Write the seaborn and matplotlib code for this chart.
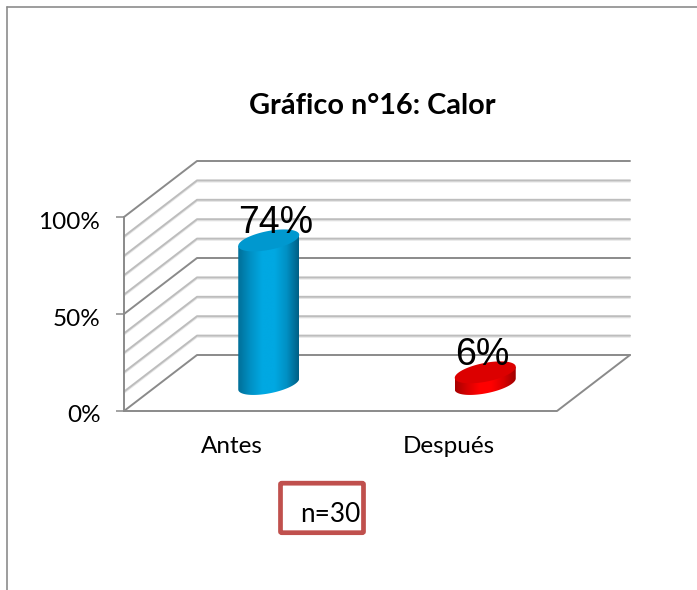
import numpy as np
import matplotlib
matplotlib.use('Agg')
import matplotlib.pyplot as plt
import seaborn as sns
from matplotlib.lines import Line2D
from matplotlib.patches import Polygon, FancyBboxPatch
from matplotlib.transforms import ScaledTranslation

categories = ['Antes', 'Después']
values = [74, 6]
value_labels = ['74%', '6%']
yticks = [0, 50, 100]
grid_steps = [0, 10, 20, 30, 40, 50, 60, 70, 80, 90, 100]
title = 'Gráfico n°16: Calor'
note = 'n=30'

W, H = 697, 590
sns.set_theme(style='white')
plt.rcParams['font.family'] = ['Lato', 'DejaVu Sans']

fig = plt.figure(figsize=(W / 100, H / 100), dpi=100, facecolor='white')
ax = fig.add_axes([124 / W, (H - 411) / H, (557 - 124) / W, (411 - 217) / H])
ax.patch.set_alpha(0)

px_x = 433 / 2      # pixels per category
px_y = 194 / 100    # pixels per percent
depth_x = 73 / px_x
depth_y = 56 / px_y

sns.barplot(x=categories, y=values, hue=categories, palette=['#00a5de', '#f00000'],
            width=61 / px_x, legend=False, ax=ax, zorder=3)
ax.set_xlim(-0.5, 1.5)
ax.set_ylim(0, 100)
ax.autoscale(False)
ax.set_xlabel('')
ax.set_ylabel('')
sns.despine(ax=ax, left=True, bottom=True, top=True, right=True)

# walls and floor
for g in grid_steps:
    major = g in yticks
    col = '#8a8a8a' if major else '#bdbdbd'
    xs = [-0.5, -0.5 + depth_x, 1.5 + depth_x]
    ys = [g, g + depth_y, g + depth_y]
    if not major:
        ax.plot(xs, [y - 0.7 for y in ys], color='#e6e6e6', lw=1.2, clip_on=False, zorder=1)
    ax.plot(xs, ys, color=col, lw=1.4, clip_on=False, zorder=1.5)
ax.plot([-0.5, 1.5, 1.5 + depth_x], [0, 0, depth_y], color='#8a8a8a', lw=1.4, clip_on=False, zorder=1.5)
ax.plot([-0.5, -0.5], [0, 100], color='#8a8a8a', lw=1.4, clip_on=False, zorder=1.5)

ax.set_yticks(yticks)
ax.set_yticklabels([f'{t}%' for t in yticks])
ax.tick_params(axis='y', length=5.5, width=1.1, color='#8a8a8a', left=True, pad=11.5, labelsize=17.5, labelcolor='black')
ax.tick_params(axis='x', length=0, pad=18, labelsize=17.5, labelcolor='black')
for lbl in ax.get_yticklabels():
    lbl.set_transform(lbl.get_transform() + ScaledTranslation(0, -3 / 100, fig.dpi_scale_trans))


def ring(cx, cy, t):
    # slanted ellipse seen from above, in data units
    hw = 30.5 / px_x
    return cx + hw * np.cos(t), cy + (9.5 * np.sin(t) + 5.5 * np.cos(t)) / px_y


cmaps = [['#006f98', '#0090c4', '#00a8e2', '#00a8e2', '#0090c4', '#005f85'],
         ['#a80000', '#d80000', '#ff0000', '#ff0000', '#d80000', '#a00000']]
tops = ['#0098cf', '#dc0000']
label_dx = [7, -3]

for bar, val, lab, stops, top_col, ldx in zip(ax.patches, values, value_labels, cmaps, tops, label_dx):
    # push the bar to the middle of the floor depth
    bar.set_x(bar.get_x() + depth_x / 2)
    bar.set_y(bar.get_y() + depth_y / 2 - 0.5)
    bar.set_visible(False)
    cx = bar.get_x() + bar.get_width() / 2
    y0 = bar.get_y()
    y1 = y0 + bar.get_height()

    # body outline: straight sides, lower edge of the bottom ellipse
    lx, ly = ring(cx, y0, np.linspace(np.pi, 2 * np.pi, 60))
    rx, ry = ring(cx, y1, np.array([0.0, np.pi]))
    body = Polygon(np.column_stack([np.r_[rx[1], lx, rx[0]], np.r_[ry[1], ly, ry[0]]]),
                   transform=ax.transData, facecolor='none', edgecolor='none')
    ax.add_patch(body)

    rgb = np.array([matplotlib.colors.to_rgb(c) for c in stops])
    pos = np.linspace(0, 1, 120)
    grad = np.stack([np.interp(pos, np.linspace(0, 1, len(stops)), rgb[:, i]) for i in range(3)], axis=1)[None, :, :]
    im = ax.imshow(grad, extent=[cx - 30.5 / px_x, cx + 30.5 / px_x, y0 - 12 / px_y, y1 + 12 / px_y],
                   aspect='auto', zorder=3, interpolation='bilinear')
    im.set_clip_path(body)

    ex, ey = ring(cx, y1, np.linspace(0, 2 * np.pi, 120))
    ax.fill(ex, ey, color=top_col, lw=0, clip_on=False, zorder=3.2)

    ax.annotate(lab, xy=(cx, y1), xytext=(ldx, 7), textcoords='offset pixels', ha='center', va='baseline',
                fontsize=27, family=['Liberation Sans'], color='black', zorder=5, annotation_clip=False)

ax.set_xlim(-0.5, 1.5)
ax.set_ylim(0, 100)

fig.text(372 / W, 1 - 106 / H, title, ha='center', va='center', fontsize=20.8, fontweight='bold', color='black')

# note box
box = FancyBboxPatch((280.5 / W, 1 - 532.7 / H), 83 / W, 49.5 / H, boxstyle='round,pad=0,rounding_size=0.002',
                     transform=fig.transFigure, facecolor='white', edgecolor='#c0504d', linewidth=3.4)
fig.add_artist(box)
fig.text(360 / W, 1 - 515 / H, note, ha='right', va='center', fontsize=18.8, color='black')

# page frame around the picture
frame = dict(color='#8c8c8c', lw=1.2, transform=fig.transFigure)
fig.add_artist(Line2D([6.5 / W, 6.5 / W], [0, 1 - 6.5 / H], **frame))
fig.add_artist(Line2D([6.5 / W, 1], [1 - 6.5 / H, 1 - 6.5 / H], **frame))

fig.savefig('out.png', dpi=100, facecolor='white')
